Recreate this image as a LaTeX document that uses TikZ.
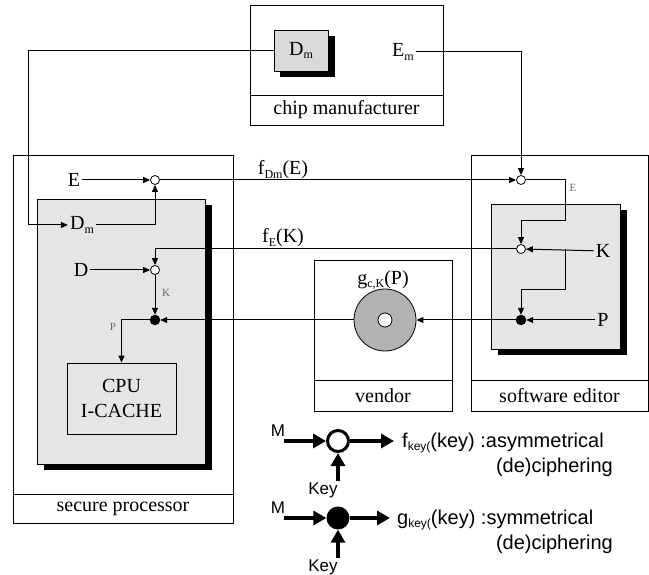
\documentclass[tikz,border=0pt]{standalone}
\usepackage{fontspec}
\setmainfont{Liberation Serif}
\newfontfamily\legfont{Liberation Sans}
\usetikzlibrary{positioning, arrows.meta, shadows}
\newcommand{\lsub}[1]{\raisebox{-0.35ex}{\fontsize{12}{12}\selectfont #1}}
\tikzset{
    lbl/.style={
        font=\fontsize{20}{24}\selectfont,
        inner sep=2pt
    },
    tinylbl/.style={
        font=\fontsize{11}{12}\selectfont,
        text=black!60,
        inner sep=0pt
    },
    frame/.style={
        line width=0.8pt
    },
    wire/.style={
        line width=1pt,
        -{Triangle[length=7pt,width=6pt]}
    },
    openjoin/.style={
        circle,
        draw,
        line width=0.8pt,
        fill=white,
        inner sep=0pt,
        minimum size=9pt
    },
    fulljoin/.style={
        circle,
        draw,
        fill=black,
        inner sep=0pt,
        minimum size=10pt
    },
    panel/.style={
        draw,
        line width=0.8pt,
        fill=black!10,
        inner sep=0pt,
        drop shadow={shadow xshift=7pt,shadow yshift=-6pt,fill=black,opacity=1}
    },
    legtext/.style={
        font=\legfont\fontsize{20}{24}\selectfont,
        inner sep=0pt
    },
    legsmall/.style={
        font=\legfont\fontsize{17}{20}\selectfont,
        inner sep=1pt
    },
    legarrow/.style={
        line width=4pt,
        -{Triangle[length=13pt,width=14pt]}
    }
}
\begin{document}
\begin{tikzpicture}[x=1pt,y=-1pt]
  \useasboundingbox (0,0) rectangle (649,575);

  % outer frames
  \draw[frame] (250,5) rectangle (443,125);
  \draw[frame] (250,95) -- (443,95);
  \draw[frame] (13,155) rectangle (233,523);
  \draw[frame] (13,494) -- (233,494);
  \draw[frame] (314,260) rectangle (452,411);
  \draw[frame] (314,380) -- (452,380);
  \draw[frame] (471,155) rectangle (648,411);
  \draw[frame] (471,380) -- (648,380);

  \node[lbl] (cmname) at (346.5,110) {chip manufacturer};
  \node[lbl] (spname) at (123,508.5) {secure processor};
  \node[lbl] (vdname) at (383,395.5) {vendor};
  \node[lbl] (sename) at (559.5,395.5) {software editor};

  % shaded panels
  \node[panel, minimum width=168pt, minimum height=265pt] (sppanel) at (121,331.5) {};
  \node[panel, minimum width=129pt, minimum height=145pt] (sepanel) at (555.5,276.5) {};
  \node[panel, fill=black!15, minimum width=54pt, minimum height=41pt,
        drop shadow={shadow xshift=6pt,shadow yshift=-6pt,fill=black,opacity=1}]
        (dmbox) at (301,50.5) {\fontsize{20}{24}\selectfont D\lsub{m}};
  \node[lbl] (emL) at (403,52) {E\lsub{m}};

  % secure processor
  \node[lbl] (eL) at (74,180) {E};
  \node[lbl] (dmL) at (82,225) {D\lsub{m}};
  \node[lbl] (dL) at (81,270) {D};
  \node[openjoin] (j1) at (155,180) {};
  \node[openjoin] (j2) at (155,270) {};
  \node[fulljoin] (j3) at (155,320) {};
  \node[draw, frame, minimum width=109pt, minimum height=71pt, align=center,
        font=\fontsize{20}{25}\selectfont] (cpu) at (121.5,398.5) {CPU\\I-CACHE};
  \node[tinylbl] (kwire) at (166,293) {K};
  \node[tinylbl] (pwire) at (113,327) {P};

  % vendor
  \node[circle, draw, line width=0.8pt, fill=black!30, minimum size=62pt] (disc) at (385,320) {};
  \node[circle, draw, line width=0.8pt, fill=white, minimum size=14pt, inner sep=0pt] (hole) at (disc) {};
  \node[lbl] (gL) at (383,280) {g\lsub{c,K}(P)};

  % software editor
  \node[openjoin] (j4) at (521,180) {};
  \node[openjoin] (j5) at (521,249) {};
  \node[fulljoin] (j6) at (521,320) {};
  \node[lbl] (kL) at (603,251) {K};
  \node[lbl] (pL) at (603,320) {P};
  \node[tinylbl] (ewire) at (573,188) {E};
  \coordinate (lft) at (28,0);
  \coordinate (eb) at (565,221);
  \coordinate (kb1) at (565,249);
  \coordinate (kb2) at (565,290);

  % transfer labels
  \node[lbl] (fdm) at (283,170) {f\lsub{Dm}(E)};
  \node[lbl] (fek) at (283,238) {f\lsub{E}(K)};

  % connectors
  \draw[wire] (dmbox.west) -- (dmbox.west -| lft) |- (dmL.west);
  \draw[wire] (emL) -| (j4);
  \draw[wire] (eL) -- (j1);
  \draw[wire] (dmL) -| (j1);
  \draw[wire] (j1) -- (j4);
  \draw[wire] (j4) -| (eb) -| (j5);
  \draw[wire] (kL) -- (j5);
  \draw[wire] (kb1) -- (kb2) -| (j6);
  \draw[wire] (pL) -- (j6);
  \draw[wire] (j6) -- (disc);
  \draw[wire] (j5) -| (j2);
  \draw[wire] (dL) -- (j2);
  \draw[wire] (j2) -- (j3);
  \draw[wire] (disc) -- (j3);
  \draw[wire] (j3) -| (cpu);

  % legend
  \node[circle, draw, line width=3pt, fill=white, minimum size=21pt, inner sep=0pt] (ring1) at (338,441) {};
  \node[circle, fill=black, minimum size=23pt, inner sep=0pt] (dot1) at (338,518) {};
  \node[legsmall] (m1) at (278,431) {M};
  \node[legsmall] (m2) at (278,508) {M};
  \node[legsmall] (key1) at (323,490) {Key};
  \node[legsmall] (key2) at (323,567) {Key};
  \coordinate (in1) at (284,441);
  \coordinate (out1) at (394,441);
  \coordinate (in2) at (284,518);
  \coordinate (out2) at (390,518);
  \draw[legarrow] (in1) -- (ring1);
  \draw[legarrow] (ring1) -- (out1);
  \draw[legarrow] (ring1 |- key1.north) -- (ring1);
  \draw[legarrow] (in2) -- (dot1);
  \draw[legarrow] (dot1) -- (out2);
  \draw[legarrow] (dot1 |- key2.north) -- (dot1);
  \node[legtext, anchor=west] (fdesc) at (402,443) {f\lsub{key(}(key) :asymmetrical};
  \node[legtext, anchor=east] (fdesc2) at (613,467) {(de)ciphering};
  \node[legtext, anchor=west] (gdesc) at (397,520) {g\lsub{key(}(key) :symmetrical};
  \node[legtext, anchor=east] (gdesc2) at (613,544) {(de)ciphering};
\end{tikzpicture}
\end{document}
